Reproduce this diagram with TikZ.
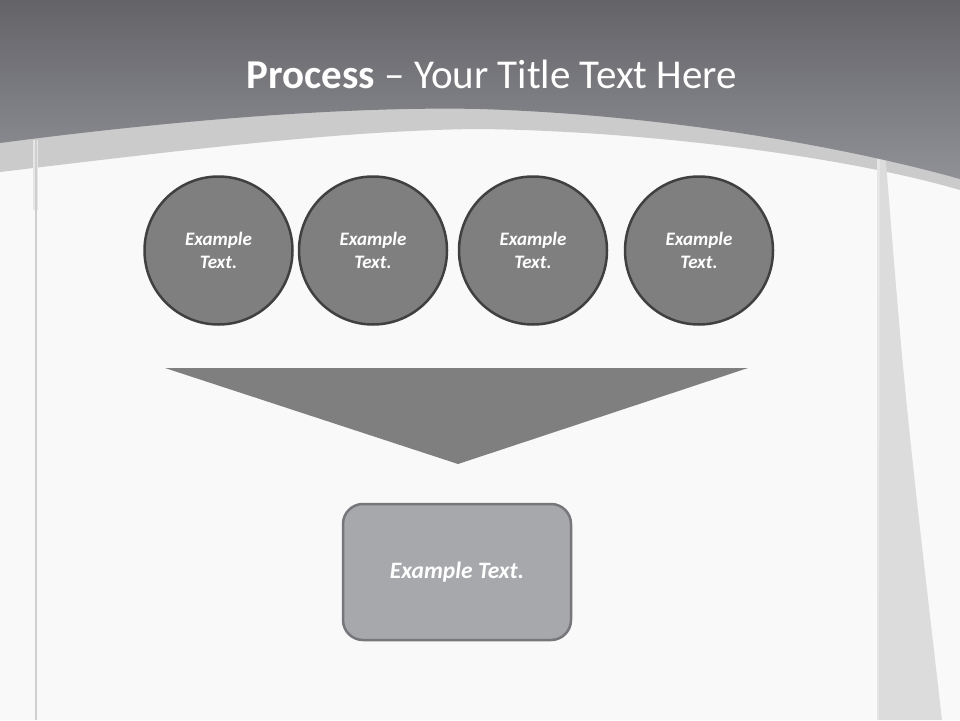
\documentclass[tikz,border=0pt]{standalone}
\usepackage{fontspec}
\setmainfont{Carlito}
\definecolor{bgc}{HTML}{F9F9F9}
\definecolor{hdtop}{HTML}{636368}
\definecolor{hdbot}{HTML}{909196}
\definecolor{bandc}{HTML}{CBCBCB}
\definecolor{stripc}{HTML}{E6E6E6}
\definecolor{wedgec}{HTML}{DCDCDC}
\definecolor{circfill}{HTML}{7F7F7F}
\definecolor{circline}{HTML}{404040}
\definecolor{boxfill}{HTML}{A7A8AC}
\definecolor{boxline}{HTML}{77777B}
\definecolor{trifill}{HTML}{7F7F7F}
\tikzset{
  stepcirc/.style={circle, minimum size=148pt, inner sep=0pt, fill=circfill, draw=circline, line width=2.5pt,
    text=white, font=\fontsize{19}{23}\selectfont\bfseries\itshape, align=center},
  resultbox/.style={rectangle, rounded corners=20pt, minimum width=228pt, minimum height=136pt, inner sep=0pt,
    fill=boxfill, draw=boxline, line width=2.5pt, text=white, font=\fontsize{23.5}{28}\selectfont\bfseries\itshape},
  titletext/.style={text=white, font=\fontsize{41}{48}\selectfont, inner sep=0pt, anchor=base}
}
\begin{document}
\begin{tikzpicture}[x=1pt,y=-1pt]
\useasboundingbox (0,0) rectangle (960,720);
\fill[bgc] (0,0) rectangle (960,720);
% band
\fill[bandc] (0,0) -- (960,0) -- (960,190) .. controls (840,155) and (640,131) .. (480,129)
  .. controls (340,130) and (160,153) .. (0,172) -- cycle;
% strips
\fill[stripc] (877,150) rectangle (885,720);
\fill[wedgec] (880,150) -- (885,150) .. controls (905,400) .. (942,720) -- (879,720) -- cycle;
\fill[stripc] (33,140) rectangle (38,210);
\draw[stripc!90!black, line width=2pt] (36,140) -- (36,720);
% header
\shade[top color=hdtop, bottom color=hdbot] (0,0) -- (960,0) -- (960,179) .. controls (820,140) and (640,114) .. (480,109)
  .. controls (340,106) and (160,122) .. (0,143) -- cycle;
% title
\node[titletext] (title) at (492,88) {\textbf{Process} – Your Title Text Here};
% circles
\node[stepcirc] (c1) at (218.5,250.5) {Example\\Text.};
\node[stepcirc] (c2) at (373,250.5) {Example\\Text.};
\node[stepcirc] (c3) at (533,250.5) {Example\\Text.};
\node[stepcirc] (c4) at (699,250.5) {Example\\Text.};
% funnel triangle
\coordinate (tl) at (165,368);
\coordinate (tr) at (748,368);
\coordinate (tp) at (458,464);
\fill[trifill] (tl) -- (tr) -- (tp) -- cycle;
% result box
\node[resultbox] (res) at (457,572) {Example Text.};
\end{tikzpicture}
\end{document}
